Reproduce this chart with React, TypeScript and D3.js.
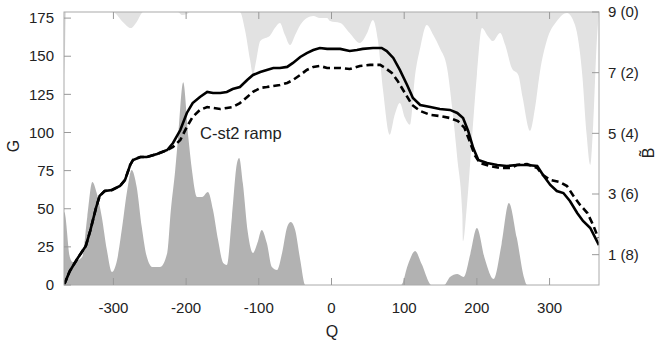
import React from "react";
import * as d3 from "d3";

// x positions (Q) and values
const lightQ = [-368, -367, -365, -301, -298, -287, -276, -268, -259, -211, -206, -199, -195, -126, -119, -112, -108, -104, -98, -91, -85, -78, -71, -64, -57, -50, -43, -34, -25, -16, -6, -2, 12, 25, 39, 49, 57, 64, 71, 80, 87, 94, 101, 108, 115, 122, 131, 140, 149, 159, 166, 173, 180, 181, 186, 193, 200, 207, 215, 222, 232, 239, 248, 257, 263, 273, 280, 287, 296, 310, 324, 335, 345, 351, 356, 360, 365, 368];
const lightB = [6.9, 7.4, 9, 9, 8.97, 8.67, 8.47, 8.67, 9, 9, 8.9, 8.93, 9, 9, 8.41, 7.42, 6.92, 7.35, 8.04, 8.14, 8.21, 8.47, 8.64, 8.24, 7.91, 8.24, 8.57, 8.8, 8.87, 8.8, 8.8, 8.7, 8.64, 8.31, 7.98, 8.31, 8.74, 8.04, 6.4, 4.95, 5.61, 6.0, 5.51, 5.28, 6.92, 7.81, 8.57, 8.24, 7.81, 7.15, 5.84, 4.19, 2.31, 1.45, 2.54, 4.75, 6.92, 8.47, 8.21, 8.04, 8.31, 7.91, 7.15, 6.92, 6.17, 5.08, 5.84, 7.06, 8.04, 8.7, 8.97, 8.57, 6.92, 4.95, 3.96, 5.28, 8.04, 9];

const darkQ = [-368, -367, -360, -356, -343, -336, -329, -323, -316, -309, -302, -295, -288, -281, -275, -268, -261, -254, -246, -236, -226, -221, -215, -211, -204, -197, -192, -185, -178, -170, -163, -156, -149, -144, -137, -130, -127, -122, -115, -108, -102, -96, -89, -82, -75, -68, -61, -56, -50, -43, -36, 96, 105, 115, 124, 138, 155, 163, 173, 182, 191, 200, 211, 223, 234, 244, 255, 265, 269, 368];
const darkG = [48, 47.2, 18.4, 15.1, 18.4, 44.6, 67.5, 60.3, 44.6, 23, 8.5, 16.4, 38, 62.3, 75.4, 64.3, 38, 18.4, 11.8, 11.8, 21, 49.2, 75.4, 97, 133, 97, 75.4, 57.7, 57.7, 61, 49.2, 29.5, 14.4, 13.1, 44.6, 80, 83.3, 66.9, 34.1, 21, 27.5, 36.1, 27.5, 11.8, 9.8, 21, 38, 41.3, 36.1, 16.4, 0, 0, 13.1, 22.3, 13.8, 0, 0, 5.2, 7.2, 5.2, 20.3, 37.4, 17.0, 3.9, 26.9, 53.8, 30.8, 4.6, 0, 0];

const solidQ = [-368, -360, -349, -338, -332, -324, -319, -312, -302, -291, -284, -277, -273, -263, -254, -240, -226, -218, -208, -199, -191, -181, -171, -163, -153, -144, -136, -126, -116, -108, -98, -89, -80, -71, -61, -53, -43, -34, -25, -16, -6, 1, 12, 25, 35, 43, 57, 69, 76, 85, 94, 104, 112, 122, 136, 149, 163, 173, 181, 188, 195, 202, 214, 228, 241, 255, 269, 283, 291, 301, 310, 319, 328, 338, 346, 356, 365, 368];
const solidG = [0, 9.2, 17.7, 25.6, 35.4, 50.5, 58.4, 61.6, 62.3, 64.9, 68.9, 78.7, 82, 83.9, 83.9, 85.9, 88.5, 93.1, 101.6, 112.8, 119.3, 123.3, 126.6, 125.9, 125.9, 126.6, 128.5, 129.8, 134.4, 137.7, 139.7, 141, 142.3, 142.3, 143, 145.6, 149.5, 152.1, 154.1, 155.4, 154.8, 154.8, 154.8, 153.4, 154.1, 154.8, 155.4, 155.4, 153.4, 148.9, 141, 131.1, 122.6, 118, 116.7, 115.4, 114.8, 112.8, 109.5, 101, 89.8, 82, 80, 78.7, 78, 78.7, 78.7, 78, 72.1, 65.6, 61.6, 60.3, 55.1, 47.2, 42, 37.4, 28.9, 26.2];

const dashQ = [-368, -360, -349, -338, -332, -324, -319, -312, -302, -291, -284, -277, -273, -263, -254, -240, -226, -218, -208, -199, -191, -181, -171, -163, -153, -144, -136, -126, -116, -108, -98, -89, -80, -71, -61, -53, -43, -34, -25, -16, -6, -2, 12, 25, 39, 53, 67, 74, 83, 91, 101, 111, 122, 136, 149, 163, 174, 183, 190, 197, 204, 218, 232, 246, 255, 269, 283, 291, 301, 314, 324, 332, 342, 352, 360, 367];
const dashG = [0, 9.2, 17.7, 25.6, 35.4, 50.5, 58.4, 61.6, 62.3, 64.9, 68.9, 78.7, 82, 83.9, 83.9, 85.9, 88.5, 90.5, 95.1, 103.6, 110.2, 114.8, 116.7, 116.1, 115.4, 116.1, 116.7, 119.3, 123.3, 126.6, 129.2, 129.8, 130.5, 131.1, 132.5, 134.4, 137.7, 141, 143, 143.6, 142.3, 142.3, 142.3, 141.6, 143.6, 144.3, 144.3, 142.3, 139, 133.8, 125.9, 118, 114.1, 111.5, 110.8, 109.5, 107.5, 103, 94.4, 85.2, 80, 78, 76.7, 76.7, 78.7, 79.3, 76.7, 72.1, 68.9, 67.5, 64.9, 59, 52.5, 47.2, 39.3, 30.8];

const xTicks = [-300, -200, -100, 0, 100, 200, 300];
const gTicks = [0, 25, 50, 75, 100, 125, 150, 175];
const bTicks = [1, 3, 5, 7, 9];
const bTickLabels = ["1 (8)", "3 (6)", "5 (4)", "7 (2)", "9 (0)"];
const annotation = "C-st2 ramp";

const W = 664, H = 342;
const L = 64, R = 599, T = 12, B = 285;

export default function App() {
  const x = d3.scaleLinear().domain([-368, 368]).range([L, R]);
  const yG = d3.scaleLinear().domain([0, 179]).range([B, T]);
  const yB = d3.scaleLinear().domain([0, 9]).range([B, T]);

  const lightData = lightQ.map((q, i) => [q, lightB[i]] as [number, number]);
  const darkData = darkQ.map((q, i) => [q, darkG[i]] as [number, number]);
  const solidData = solidQ.map((q, i) => [q, solidG[i]] as [number, number]);
  const dashData = dashQ.map((q, i) => [q, dashG[i]] as [number, number]);

  const lightArea = d3.area<[number, number]>()
    .x(d => x(d[0])).y0(yB(9)).y1(d => yB(d[1])).curve(d3.curveMonotoneX);
  const darkArea = d3.area<[number, number]>()
    .x(d => x(d[0])).y0(yG(0)).y1(d => yG(d[1])).curve(d3.curveMonotoneX);
  const line = d3.line<[number, number]>()
    .x(d => x(d[0])).y(d => yG(d[1])).curve(d3.curveLinear);

  const font = "'Liberation Sans', Arial, Helvetica, sans-serif";
  const tickCol = "#999";
  const txtCol = "#222";

  return (
    <svg width={W} height={H} style={{ position: "absolute", left: 0, top: 0 }} fontFamily={font}>
      <defs>
        <clipPath id="plot"><rect x={L} y={T} width={R - L} height={B - T} /></clipPath>
      </defs>
      <g clipPath="url(#plot)">
        <path d={lightArea(lightData) || ""} fill="#e2e2e2" />
        <path d={darkArea(darkData) || ""} fill="#b2b2b2" />
        <path d={line(dashData) || ""} fill="none" stroke="#000" strokeWidth={2.6} strokeDasharray="7,4" />
        <path d={line(solidData) || ""} fill="none" stroke="#000" strokeWidth={2.6} />
      </g>
      <rect x={L} y={T} width={R - L} height={B - T} fill="none" stroke="#aaa" strokeWidth={1} />
      {xTicks.map(t => (
        <g key={"x" + t}>
          <line x1={x(t)} x2={x(t)} y1={B} y2={B - 7} stroke={tickCol} />
          <line x1={x(t)} x2={x(t)} y1={T} y2={T + 7} stroke={tickCol} />
          <text x={x(t)} y={313} textAnchor="middle" fontSize={15} fill={txtCol}>{t < 0 ? "-" + Math.abs(t) : String(t)}</text>
        </g>
      ))}
      {gTicks.map(t => (
        <g key={"g" + t}>
          <line x1={L} x2={L + 7} y1={yG(t)} y2={yG(t)} stroke={tickCol} />
          <text x={54} y={yG(t)} dy="0.35em" textAnchor="end" fontSize={15} fill={txtCol}>{t}</text>
        </g>
      ))}
      {bTicks.map((t, i) => (
        <g key={"b" + t}>
          <line x1={R} x2={R - 7} y1={yB(t)} y2={yB(t)} stroke={tickCol} />
          <text x={608} y={yB(t)} dy="0.35em" textAnchor="start" fontSize={15} fill={txtCol}>{bTickLabels[i]}</text>
        </g>
      ))}
      <text x={332} y={331} dy="0.35em" textAnchor="middle" fontSize={16} fill={txtCol}>Q</text>
      <text transform="translate(13,146) rotate(-90)" dy="0.35em" textAnchor="middle" fontSize={16} fill={txtCol}>G</text>
      <text transform="translate(648,153) rotate(-90)" dy="0.35em" textAnchor="middle" fontSize={16} fill={txtCol}>{"B\u0303"}</text>
      <text x={200} y={133} dy="0.35em" fontSize={16.5} fill={txtCol}>{annotation}</text>
    </svg>
  );
}
